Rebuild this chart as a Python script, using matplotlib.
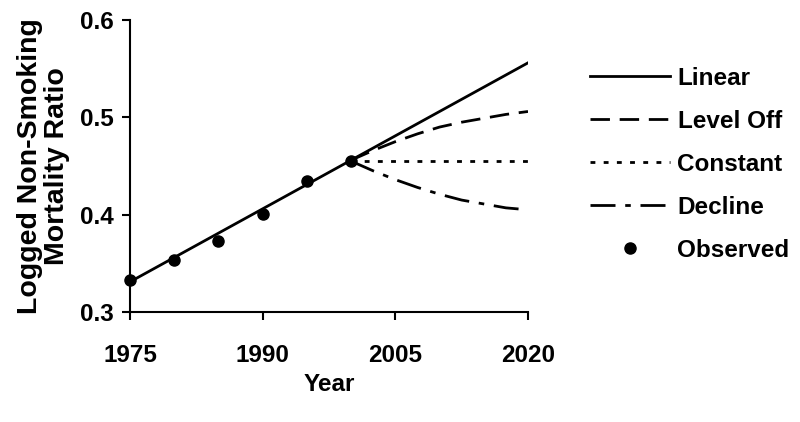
import numpy as np
import matplotlib
matplotlib.use("Agg")
import matplotlib.pyplot as plt

plt.rcParams['font.family'] = ['Liberation Sans', 'DejaVu Sans']
plt.rcParams['font.weight'] = 'bold'
plt.rcParams['lines.scale_dashes'] = False

obs_years = [1975, 1980, 1985, 1990, 1995, 2000]
obs_vals = [0.333, 0.353, 0.373, 0.401, 0.435, 0.455]

linear_years = [1975, 2020]
linear_vals = [0.331, 0.556]

proj_years = [2000, 2002.5, 2005, 2007.5, 2010, 2012.5, 2015, 2017.5, 2020]
leveloff_vals = [0.456, 0.466, 0.475, 0.483, 0.490, 0.495, 0.499, 0.503, 0.506]
constant_vals = [0.455, 0.455, 0.455, 0.455, 0.455, 0.455, 0.455, 0.455, 0.455]
decline_vals = [0.455, 0.445, 0.436, 0.428, 0.421, 0.415, 0.411, 0.407, 0.405]

fs = 17.5

fig = plt.figure(figsize=(8, 4.22), dpi=100)
ax = fig.add_axes([130/800, 1 - 312/422, 398/800, 292/422])

lw = 2.0
ax.plot(linear_years, linear_vals, color='black', lw=lw, label='Linear')
ax.plot(proj_years, leveloff_vals, color='black', lw=lw, dashes=(14, 7), label='Level Off')
ax.plot(proj_years, constant_vals, color='black', lw=lw, dashes=(3.5, 6), label='Constant')
ax.plot(proj_years, decline_vals, color='black', lw=lw, dashes=(18, 7, 4, 7), label='Decline')
ax.plot(obs_years, obs_vals, 'o', color='black', ms=8, label='Observed', clip_on=False, zorder=5)

ax.set_xlim(1975, 2020)
ax.set_ylim(0.3, 0.6)
ax.set_xticks([1975, 1990, 2005, 2020])
ax.set_yticks([0.3, 0.4, 0.5, 0.6])
ax.set_yticklabels(['0.3', '0.4', '0.5', '0.6'])
for s in ['top', 'right']:
    ax.spines[s].set_visible(False)
for s in ['left', 'bottom']:
    ax.spines[s].set_linewidth(1.5)
ax.tick_params(direction='out', length=6, width=1.5, labelsize=fs)
ax.tick_params(axis='x', pad=17)
ax.tick_params(axis='y', pad=6)

ax.set_xlabel('Year', fontsize=fs, fontweight='bold', labelpad=4.5)
ax.set_ylabel('Logged Non-Smoking\nMortality Ratio', fontsize=20.5, fontweight='bold',
              labelpad=7, linespacing=1.05)

leg = ax.legend(loc='upper left', bbox_to_anchor=(590/800, 1 - 67/422),
                bbox_transform=fig.transFigure, frameon=False, fontsize=fs,
                borderpad=0, borderaxespad=0,
                handlelength=3.3, handletextpad=0.3, labelspacing=0.82)
for t in leg.get_texts():
    t.set_fontweight('bold')

fig.savefig('out.png', dpi=100)
